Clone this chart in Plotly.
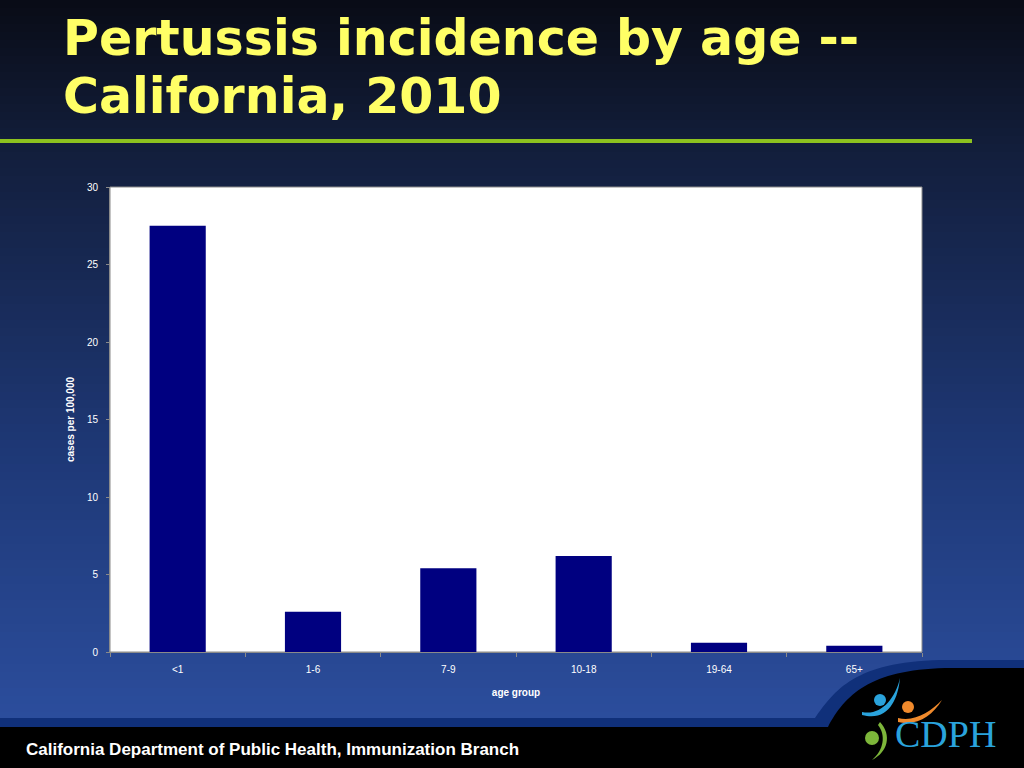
import plotly.graph_objects as go

age_groups = ["<1", "1-6", "7-9", "10-18", "19-64", "65+"]
incidence = [27.5, 2.6, 5.4, 6.2, 0.6, 0.4]
y_ticks = [0, 5, 10, 15, 20, 25, 30]

W, H = 1024, 768
L, R, T, B = 110, 102, 187, 116
PW, PH = W - L - R, H - T - B


def px(x):
    return (x - L) / PW


def py(y):
    return (H - B - y) / PH


def lerp(a, b, t):
    return tuple(int(round(a[i] + (b[i] - a[i]) * t)) for i in range(3))


stops = [(0, (9, 12, 22)), (160, (19, 31, 62)), (450, (30, 56, 118)), (730, (44, 78, 158))]


def grad(y):
    for (y0, c0), (y1, c1) in zip(stops, stops[1:]):
        if y <= y1:
            return lerp(c0, c1, (y - y0) / (y1 - y0))
    return stops[-1][1]


shapes = []
step = 8
for y in range(0, 736, step):
    c = grad(y + step / 2)
    shapes.append(dict(type="rect", xref="paper", yref="paper", layer="below",
                       x0=px(0), x1=px(W), y0=py(y + step + 0.5), y1=py(y),
                       fillcolor="rgb(%d,%d,%d)" % c, line=dict(width=0)))

# plot area white
shapes.append(dict(type="rect", xref="paper", yref="paper", layer="below",
                   x0=0, x1=1, y0=0, y1=1, fillcolor="white",
                   line=dict(color="#8a8a8a", width=1)))

# green rule under title
shapes.append(dict(type="rect", xref="paper", yref="paper", layer="below",
                   x0=px(0), x1=px(972), y0=py(143), y1=py(139),
                   fillcolor="#8dc21f", line=dict(width=0)))


def path(points):
    s = "M %f,%f" % (px(points[0][0]), py(points[0][1]))
    for p in points[1:]:
        if len(p) == 6:
            s += " C %f,%f %f,%f %f,%f" % (px(p[0]), py(p[1]), px(p[2]), py(p[3]), px(p[4]), py(p[5]))
        else:
            s += " L %f,%f" % (px(p[0]), py(p[1]))
    return s + " Z"


# footer band with curved corner
shapes.append(dict(type="path", xref="paper", yref="paper", layer="below",
                   path=path([(0, 718), (815, 718), (835, 690, 855, 662, 940, 660),
                              (1024, 660), (1024, 768), (0, 768)]),
                   fillcolor="#10307a", line=dict(width=0)))
shapes.append(dict(type="path", xref="paper", yref="paper", layer="below",
                   path=path([(0, 727), (828, 727), (845, 695, 870, 670, 945, 668),
                              (1024, 668), (1024, 768), (0, 768)]),
                   fillcolor="#000000", line=dict(width=0)))

# logo pieces
for cx, cy, r, col in [(880, 700, 6, "#2aa3dc"), (908, 707, 6, "#f08a2c"), (872, 738, 7, "#7db63a")]:
    shapes.append(dict(type="circle", xref="paper", yref="paper",
                       x0=px(cx - r), x1=px(cx + r), y0=py(cy + r), y1=py(cy - r),
                       fillcolor=col, line=dict(width=0)))
shapes.append(dict(type="path", xref="paper", yref="paper",
                   path=path([(862, 712), (880, 716, 895, 700, 900, 678),
                              (898, 700, 888, 722, 862, 715)]),
                   fillcolor="#2aa3dc", line=dict(width=0)))
shapes.append(dict(type="path", xref="paper", yref="paper",
                   path=path([(898, 718), (915, 722, 930, 712, 942, 700),
                              (932, 716, 918, 726, 898, 722)]),
                   fillcolor="#f08a2c", line=dict(width=0)))
shapes.append(dict(type="path", xref="paper", yref="paper",
                   path=path([(880, 722), (892, 735, 888, 752, 872, 760),
                              (884, 750, 886, 735, 878, 725)]),
                   fillcolor="#7db63a", line=dict(width=0)))

fig = go.Figure(go.Bar(x=age_groups, y=incidence, marker=dict(color="#000080", line=dict(width=0)),
                       hoverinfo="x+y"))

title_font = dict(family="DejaVu Sans", size=49, color="#ffff66", weight="bold")
annotations = [
    dict(text="Pertussis incidence by age --", xref="paper", yref="paper",
         x=px(61), y=py(39), xanchor="left", yanchor="middle", showarrow=False, font=title_font),
    dict(text="California, 2010", xref="paper", yref="paper",
         x=px(61), y=py(97), xanchor="left", yanchor="middle", showarrow=False, font=title_font),
    dict(text="<b>California Department of Public Health, Immunization Branch</b>", xref="paper", yref="paper",
         x=px(24), y=py(749), xanchor="left", yanchor="middle", showarrow=False,
         font=dict(family="Liberation Sans Narrow, Arial Narrow, Liberation Sans", size=17, color="white")),
    dict(text="CDPH", xref="paper", yref="paper", x=px(893), y=py(734), xanchor="left", yanchor="middle",
         showarrow=False, font=dict(family="Liberation Serif, DejaVu Serif", size=38, color="#2aa3dc")),
]

fig.update_layout(
    width=W, height=H, margin=dict(l=L, r=R, t=T, b=B),
    paper_bgcolor="rgb(30,56,118)", plot_bgcolor="white",
    bargap=0.585, showlegend=False,
    shapes=shapes, annotations=annotations,
    font=dict(family="Liberation Sans, Arial", color="white", size=10),
    xaxis=dict(showgrid=False, showline=True, linecolor="#8a8a8a", ticks="outside",
               tickson="boundaries", ticklen=4, tickcolor="#8a8a8a", ticklabelstandoff=8,
               tickfont=dict(size=10, color="white"),
               title=dict(text="<b>age group</b>", font=dict(size=10, color="white"), standoff=14)),
    yaxis=dict(range=[0, 30], tickvals=y_ticks, showgrid=False, showline=True, linecolor="#8a8a8a",
               ticks="outside", ticklen=3, tickcolor="#8a8a8a", zeroline=False, ticklabelstandoff=6,
               tickfont=dict(size=10, color="white"),
               title=dict(text="<b>cases per 100,000</b>", font=dict(size=10, color="white"), standoff=10)),
)

fig.write_html("out.html", config={"displayModeBar": False},
               post_script="document.body.style.margin='0';document.body.style.overflow='hidden';")
